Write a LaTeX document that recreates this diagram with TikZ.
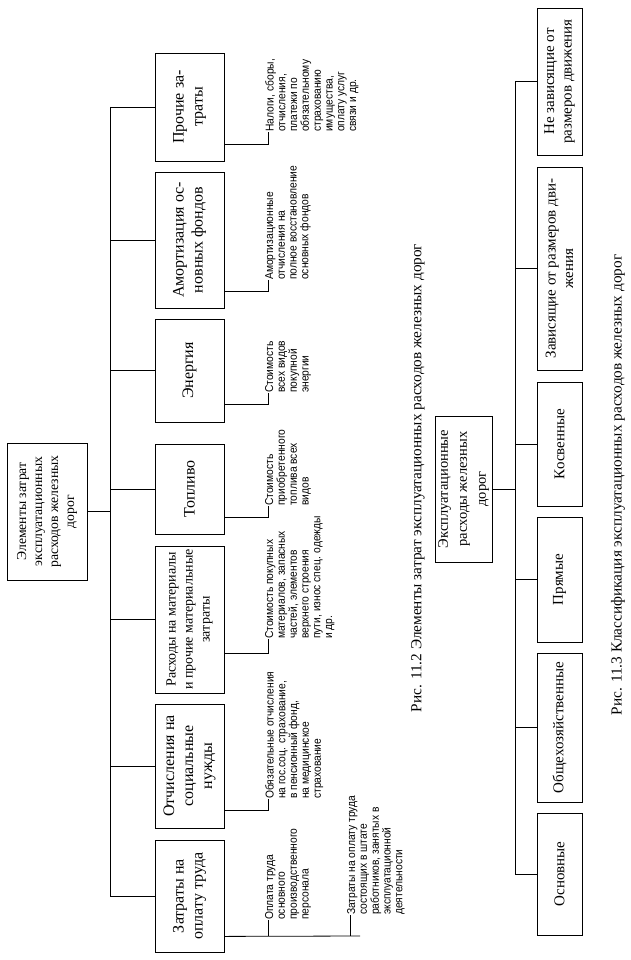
\documentclass[tikz,border=0pt]{standalone}
\usepackage{fontspec}
\setmainfont{Liberation Serif}
\newfontfamily\narrowsans[FakeStretch=0.9]{Liberation Sans}
\usetikzlibrary{calc}

\tikzset{
  box/.style={draw,line width=0.8pt,rotate=90,align=center,inner sep=1pt,font=\fontsize{16}{19}\selectfont},
  note/.style={rotate=90,anchor=north west,align=left,inner sep=0pt,font=\narrowsans\fontsize{11.4}{11.8}\selectfont},
  caption/.style={rotate=90,inner sep=0pt,font=\fontsize{15.3}{19}\selectfont},
  link/.style={line width=0.8pt},
}

\begin{document}
\begin{tikzpicture}[x=1pt,y=-1pt]
  \useasboundingbox (0,0) rectangle (630,960);
  % Рис. 11.2
  \node[box,minimum width=137pt,minimum height=80pt,font=\fontsize{13.7}{16}\selectfont] (root) at (47,511.5) {Элементы затрат\\эксплуатационных\\расходов железных\\дорог};
  \node[box,minimum width=108pt,minimum height=69pt] (proch) at (189.5,107) {Прочие за-\\траты};
  \node[box,minimum width=136pt,minimum height=69pt] (amort) at (189.5,240) {Амортизация ос-\\новных фондов};
  \node[box,minimum width=103pt,minimum height=69pt] (energ) at (189.5,370.5) {Энергия};
  \node[box,minimum width=90pt,minimum height=69pt] (topl) at (189.5,489) {Топливо};
  \node[box,minimum width=147pt,minimum height=69pt,font=\fontsize{14}{17}\selectfont] (mater) at (189.5,619.5) {Расходы на материалы\\и прочие материальные\\затраты};
  \node[box,minimum width=124pt,minimum height=69pt] (otch) at (189.5,766) {Отчисления на\\социальные\\нужды};
  \node[box,minimum width=112pt,minimum height=69pt] (zatr) at (189.5,896) {Затраты на\\оплату труда};
  \coordinate (bus) at (110,0);
  \draw[link] (root.south) -- (root.south -| bus);
  \draw[link] (proch.north -| bus) -- (zatr.north -| bus);
  \foreach \b in {proch,amort,energ,topl,mater,otch,zatr}
    \draw[link] (\b.north) -- (\b.north -| bus);

  \node[note] (nproch) at (265,132) {Налоги, сборы,\\отчисления,\\платежи по\\обязательному\\страхованию\\имущества,\\оплату услуг\\связи и др.};
  \node[note] (namort) at (265,280) {Амортизационные\\отчисления на\\полное восстановление\\основных фондов};
  \node[note] (nenerg) at (265,393) {Стоимость\\всех видов\\покупной\\энергии};
  \node[note] (ntopl) at (265,506) {Стоимость\\приобретенного\\топлива всех\\видов};
  \node[note] (nmater) at (265,639) {Стоимость покупных\\материалов, запасных\\частей, элементов\\верхнего строения\\пути, износ спец. одежды\\и др.};
  \node[note] (notch) at (265,799) {Обязательные отчисления\\на гос.соц. страхование,\\в пенсионный фонд,\\на медицинское\\страхование};
  \node[note] (nzatra) at (265,920) {Оплата труда\\основного\\производственного\\персонала};
  \node[note] (nzatrb) at (347,915) {Затраты на оплату труда\\состоящих в штате\\работников, занятых в\\эксплуатационной\\деятельности};
  \draw[link] ([yshift=17pt]proch.south west) -| ([xshift=3pt]nproch.north west);
  \draw[link] ([yshift=17pt]amort.south west) -| ([xshift=3pt]namort.north west);
  \draw[link] ([yshift=18pt]energ.south west) -| ([xshift=3pt]nenerg.north west);
  \draw[link] ([yshift=17pt]topl.south west) -| ([xshift=3pt]ntopl.north west);
  \draw[link] ([yshift=40pt]mater.south west) -| ([xshift=3pt]nmater.north west);
  \draw[link] ([yshift=18pt]otch.south west) -| ([xshift=3pt]notch.north west);
  \coordinate (zend) at (360,936);
  \draw[link] ([yshift=16pt]zatr.south west) -- (zend);
  \draw[link] ([xshift=3pt]nzatra.north west) -- ([xshift=3pt]nzatra.north west |- zend);
  \draw[link] ([xshift=3pt]nzatrb.north west) -- ([xshift=3pt]nzatrb.north west |- zend);

  \node[caption] (cap1) at (418,478) {Рис. 11.2 Элементы затрат эксплуатационных расходов железных дорог};

  % Рис. 11.3
  \node[box,minimum width=146pt,minimum height=57pt,font=\fontsize{14.5}{19}\selectfont] (ekspl) at (463.5,489) {Эксплуатационные\\расходы железных\\дорог};
  \tikzset{box/.append style={font=\fontsize{15}{17.5}\selectfont}}
  \node[box,minimum width=147pt,minimum height=45pt] (nezav) at (559.5,81.5) {Не зависящие от\\размеров движения};
  \node[box,minimum width=203pt,minimum height=45pt] (zav) at (559.5,268.5) {Зависящие от размеров дви-\\жения};
  \node[box,minimum width=124pt,minimum height=45pt] (kosv) at (559.5,444) {Косвенные};
  \node[box,minimum width=125pt,minimum height=45pt] (pryam) at (559.5,579.5) {Прямые};
  \node[box,minimum width=149pt,minimum height=45pt] (obsh) at (559.5,727.5) {Общехозяйственные};
  \node[box,minimum width=122pt,minimum height=45pt] (osn) at (559.5,874) {Основные};
  \coordinate (bustwo) at (515,0);
  \draw[link] (ekspl.south) -- (ekspl.south -| bustwo);
  \draw[link] (nezav.north -| bustwo) -- (osn.north -| bustwo);
  \foreach \b in {nezav,zav,kosv,pryam,obsh,osn}
    \draw[link] (\b.north) -- (\b.north -| bustwo);

  \node[caption] (cap2) at (618,485) {Рис. 11.3 Классификация эксплуатационных расходов железных дорог};
\end{tikzpicture}
\end{document}
